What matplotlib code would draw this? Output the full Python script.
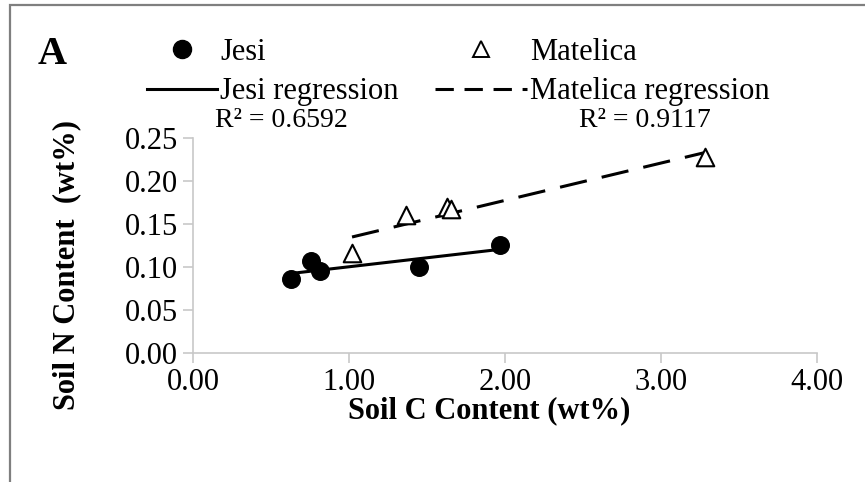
import matplotlib.pyplot as plt
import numpy as np
from matplotlib.lines import Line2D
from matplotlib.patches import Rectangle

# soil C and N content (wt%) for the two sites
jesi_c = [0.63, 0.755, 0.815, 1.45, 1.97]
jesi_n = [0.086, 0.107, 0.0956, 0.0996, 0.1256]
matelica_c = [1.02, 1.366, 1.627, 1.653, 3.284]
matelica_n = [0.116, 0.160, 0.170, 0.168, 0.228]

jesi_r2 = 'R² = 0.6592'
matelica_r2 = 'R² = 0.9117'

x_ticks = [0, 1, 2, 3, 4]
y_ticks = [0, 0.05, 0.10, 0.15, 0.20, 0.25]

plt.rcParams['font.family'] = ['Liberation Serif', 'DejaVu Serif']

fig = plt.figure(figsize=(8.65, 4.82), dpi=100)
ax = fig.add_axes([0.2231, 0.2683, 0.7211, 0.4448])

# linear trend over each site's data range
def trend(x, y):
    k, b = np.polyfit(x, y, 1)
    xs = np.array([min(x), max(x)])
    return xs, k * xs + b

ax.scatter(jesi_c, jesi_n, s=160, marker='o', color='black', zorder=3)
ax.scatter(matelica_c, matelica_n, s=160, marker='^', facecolor='white',
           edgecolor='black', linewidth=1.5, zorder=3)
xs, ys = trend(jesi_c, jesi_n)
ax.plot(xs, ys, color='black', lw=2.2, solid_capstyle='butt')
xs, ys = trend(matelica_c, matelica_n)
ax.plot(xs, ys, color='black', lw=2.2, dashes=(9, 5))

ax.set_xlim(0, 4)
ax.set_ylim(0, 0.25)
ax.set_xticks(x_ticks)
ax.set_yticks(y_ticks)
ax.set_xticklabels(['%.2f' % v for v in x_ticks], fontsize=22)
ax.set_yticklabels(['%.2f' % v for v in y_ticks], fontsize=22)
for s in ['top', 'right']:
    ax.spines[s].set_visible(False)
for s in ['left', 'bottom']:
    ax.spines[s].set_color('#c8c8c8')
    ax.spines[s].set_linewidth(1.2)
ax.tick_params(direction='out', length=7, width=1.2, color='#c8c8c8', pad=4)

fig.text(0.565, 0.148, 'Soil C Content (wt%)', fontsize=22, fontweight='bold',
         ha='center', va='center')
fig.text(0.077, 0.45, 'Soil N Content  (wt%)', fontsize=22, fontweight='bold',
         ha='center', va='center', rotation=90)

# legend: one column per site
jesi_handles = [
    Line2D([], [], marker='o', color='black', ls='none', markersize=13),
    Line2D([], [], color='black', lw=2.2),
]
mat_handles = [
    Line2D([], [], marker='^', markerfacecolor='white', markeredgecolor='black',
           markeredgewidth=1.4, ls='none', markersize=12),
    Line2D([], [], color='black', lw=2.2, dashes=(6, 3.5)),
]
leg_kw = dict(loc='upper left', frameon=False, fontsize=22, handletextpad=0.1,
              labelspacing=0.35, borderaxespad=0, borderpad=0)
fig.legend(jesi_handles, ['Jesi', 'Jesi regression'], handlelength=2.3,
           bbox_to_anchor=(0.17, 0.922), **leg_kw)
fig.legend(mat_handles, ['Matelica', 'Matelica regression'], handlelength=3.0,
           bbox_to_anchor=(0.503, 0.922), **leg_kw)
fig.text(0.249, 0.75, jesi_r2, fontsize=20, va='center')
fig.text(0.669, 0.75, matelica_r2, fontsize=20, va='center')
fig.text(0.043, 0.887, 'A', fontsize=29, fontweight='bold', va='center')

# outer frame (top and left edges visible)
fig.patches.append(Rectangle((0.011, -0.1), 1.2, 1.09, transform=fig.transFigure,
                             fill=False, edgecolor='#7f7f7f', lw=1.6))

fig.savefig('out.png', dpi=100)
